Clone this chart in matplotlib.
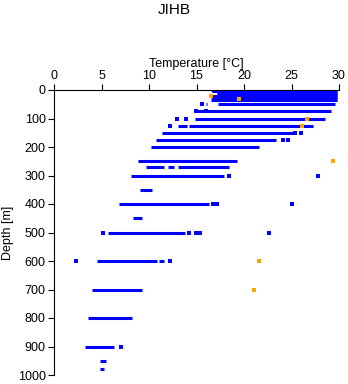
import matplotlib
matplotlib.use("Agg")
import matplotlib.pyplot as plt

plt.rcParams['font.family'] = ['Liberation Sans', 'DejaVu Sans']

# continuous runs of blue points: (depth, t_start, t_end)
seg_depth = [0, 5, 10, 15, 20, 25, 30, 35,
             50, 50, 75, 100, 125, 125, 150, 175, 200, 250,
             270, 270, 270, 300, 350, 400, 450, 500,
             600, 600, 700, 800, 900, 950, 980]
seg_start = [16.5, 16.6, 17.2, 17.2, 16.5, 16.5, 16.6, 16.5,
             16.0, 17.3, 15.1, 14.8, 13.1, 14.2, 11.4, 10.7, 10.2, 8.8,
             9.7, 12.0, 13.0, 8.1, 9.1, 6.8, 8.3, 5.7,
             4.5, 11.1, 4.0, 3.6, 3.3, 4.8, 4.8]
seg_end = [29.8, 29.8, 29.8, 29.8, 29.8, 29.8, 29.8, 29.8,
           16.1, 29.6, 29.2, 28.5, 14.0, 27.3, 25.2, 23.4, 21.6, 19.3,
           11.6, 12.6, 18.4, 17.9, 10.3, 16.3, 9.3, 13.8,
           10.8, 11.6, 9.3, 8.2, 6.3, 5.5, 5.3]

# isolated blue points
pt_temp = [15.6, 14.9, 16.0, 12.9, 13.9, 12.2, 25.4, 26.0, 24.1, 24.6,
           18.4, 27.8, 16.7, 17.2, 25.1, 5.2, 14.2, 14.9, 15.4, 22.6,
           2.3, 12.2, 7.0]
pt_depth = [50, 75, 75, 100, 100, 125, 150, 150, 175, 175,
            300, 300, 400, 400, 400, 500, 500, 500, 500, 500,
            600, 600, 900]

# orange points
or_temp = [16.5, 19.5, 26.6, 26.1, 29.4, 21.6, 21.1]
or_depth = [22, 32, 100, 127, 250, 600, 700]

fig = plt.figure(figsize=(3.48, 3.84), dpi=100)
ax = fig.add_axes([54 / 348, 9 / 384, 285 / 348, 285 / 384])

ax.hlines(seg_depth, seg_start, seg_end, colors='blue', linewidth=2.2)
ax.plot(pt_temp, pt_depth, 's', color='blue', markersize=2.5, markeredgewidth=0)
ax.plot(or_temp, or_depth, 's', color='orange', markersize=2.5, markeredgewidth=0)

ax.set_xlim(0, 30)
ax.set_ylim(1000, 0)
ax.set_xticks(range(0, 31, 5))
ax.set_yticks(range(0, 1001, 100))
ax.xaxis.tick_top()
ax.xaxis.set_label_position('top')
ax.set_xlabel('Temperature [°C]', fontsize=9, labelpad=2)
ax.set_ylabel('Depth [m]', fontsize=9, labelpad=3)
ax.tick_params(labelsize=9, length=4, width=0.8, pad=2)
ax.spines['right'].set_visible(False)
ax.spines['bottom'].set_visible(False)
ax.spines['top'].set_linewidth(0.8)
ax.spines['left'].set_linewidth(0.8)

fig.text(174 / 348, 1 - 10 / 384, 'JIHB', ha='center', va='center', fontsize=11)

fig.savefig('out.png', dpi=100)
